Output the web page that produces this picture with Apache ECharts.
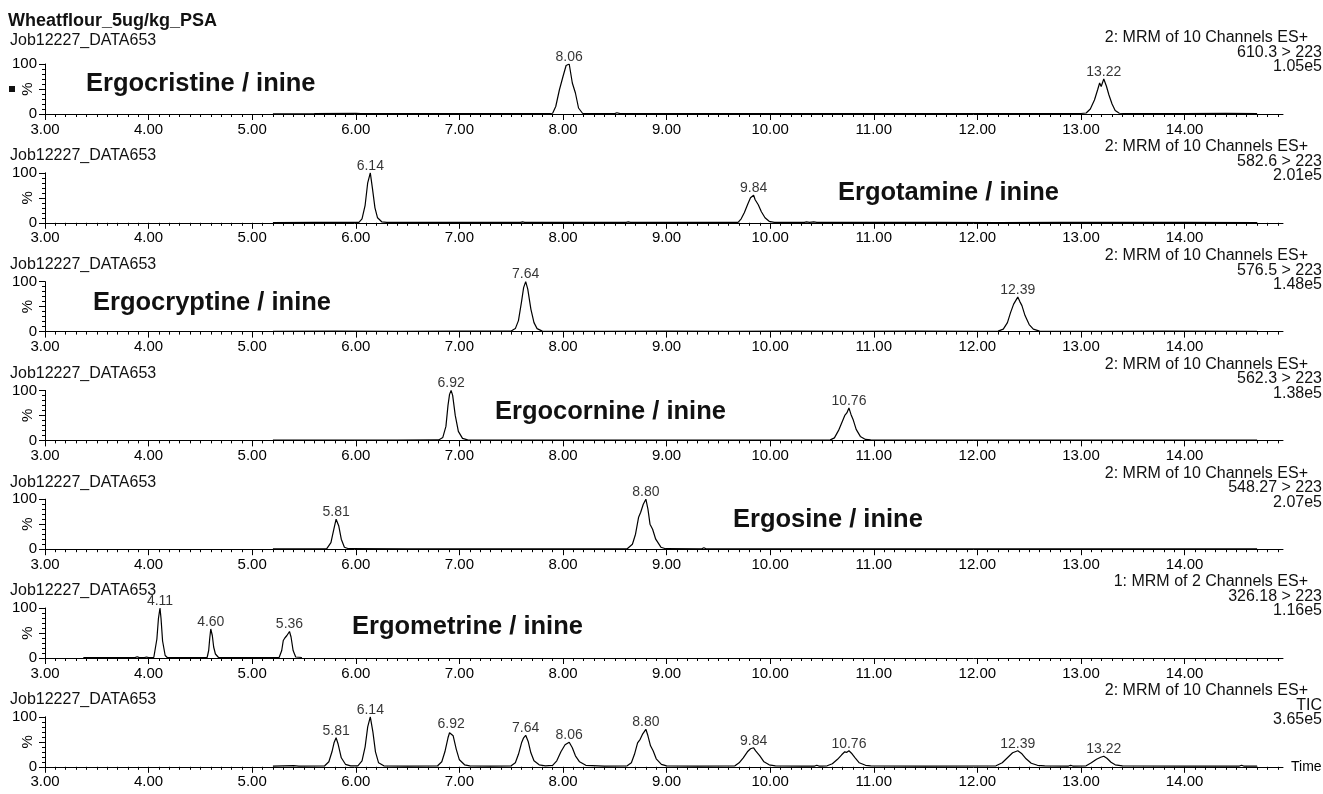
<!DOCTYPE html>
<html>
<head>
<meta charset="utf-8">
<title>Wheatflour_5ug/kg_PSA</title>
<script src="https://cdn.jsdelivr.net/npm/echarts@6/dist/echarts.min.js"></script>
<style>
  html, body { margin: 0; padding: 0; background: #fff; }
  #chart { width: 1323px; height: 794px; }
</style>
</head>
<body>
<div id="chart"></div>
<script>
// ---- Data -------------------------------------------------------------
// Retention time axis (minutes)
const majorTicks = [3, 4, 5, 6, 7, 8, 9, 10, 11, 12, 13, 14];

// Chromatogram traces: [retention time (min), relative intensity (%)]
const ergocristine = [
  [5.20, 0.5], [5.60, 0.8], [6.00, 1.5], [6.05, 0.8], [6.50, 0.6], [7.00, 0.9], [7.40, 0.6], [7.85, 0.8],
  [7.90, 1.5], [7.93, 15], [7.965, 48], [8.00, 75], [8.03, 97], [8.06, 100], [8.09, 62], [8.12, 42],
  [8.15, 12], [8.19, 1], [8.50, 0.8], [8.52, 2.5], [8.55, 0.8], [9.00, 0.6], [9.50, 0.9], [10.00, 0.7],
  [10.50, 0.8], [11.00, 0.6], [11.50, 0.9], [12.00, 0.7], [12.50, 0.8], [13.00, 1.0], [13.05, 2],
  [13.09, 10], [13.13, 28], [13.16, 48], [13.18, 62], [13.195, 55], [13.22, 70], [13.245, 56],
  [13.27, 38], [13.30, 20], [13.33, 7], [13.37, 1.5], [13.45, 0.8], [14.00, 0.8], [14.40, 1.2], [14.70, 0.6]
];
const ergotamine = [
  [5.20, 0.5], [5.60, 0.8], [6.00, 0.7], [6.03, 1], [6.06, 8], [6.09, 35], [6.115, 80], [6.14, 100],
  [6.16, 70], [6.185, 30], [6.21, 10], [6.25, 2], [6.30, 0.8], [6.90, 0.7], [7.59, 0.8], [7.61, 2],
  [7.63, 0.8], [8.20, 0.7], [8.61, 0.8], [8.63, 2], [8.65, 0.8], [9.20, 0.7], [9.69, 1], [9.72, 8],
  [9.75, 20], [9.785, 38], [9.81, 50], [9.84, 55], [9.855, 46], [9.87, 50], [9.885, 36], [9.915, 22],
  [9.95, 10], [9.99, 3], [10.04, 1], [10.33, 0.8], [10.35, 2], [10.38, 0.8], [10.42, 2], [10.45, 0.8],
  [11.00, 0.7], [11.60, 0.8], [12.20, 0.6], [12.80, 0.8], [13.40, 0.7], [14.00, 0.8], [14.70, 0.6]
];
const ergocryptine = [
  [5.20, 0.5], [5.80, 0.8], [6.40, 0.6], [7.00, 0.8], [7.50, 1], [7.54, 6], [7.57, 22], [7.60, 60],
  [7.62, 88], [7.64, 100], [7.66, 85], [7.69, 45], [7.72, 18], [7.75, 6], [7.80, 1], [8.40, 0.7],
  [9.00, 0.8], [9.60, 0.6], [10.20, 0.8], [10.80, 0.7], [11.40, 0.8], [12.00, 0.7], [12.20, 1],
  [12.25, 5], [12.29, 18], [12.32, 38], [12.35, 55], [12.37, 62], [12.39, 69], [12.41, 60], [12.43, 52],
  [12.46, 32], [12.50, 14], [12.54, 5], [12.60, 1], [13.20, 0.7], [13.80, 0.8], [14.70, 0.6]
];
const ergocornine = [
  [5.20, 0.5], [5.80, 0.8], [6.40, 0.6], [6.80, 1], [6.84, 6], [6.87, 28], [6.89, 70], [6.905, 92],
  [6.92, 100], [6.935, 90], [6.96, 50], [6.99, 18], [7.03, 4], [7.08, 1], [7.60, 0.7], [8.20, 0.8],
  [8.80, 0.6], [9.40, 0.8], [10.00, 0.7], [10.58, 1], [10.62, 5], [10.66, 20], [10.69, 35], [10.72, 50],
  [10.74, 55], [10.76, 65], [10.78, 52], [10.80, 42], [10.83, 22], [10.87, 8], [10.92, 2], [10.97, 1],
  [11.60, 0.7], [12.20, 0.8], [12.80, 0.6], [13.40, 0.8], [14.00, 0.7], [14.70, 0.6]
];
const ergosine = [
  [5.20, 0.5], [5.50, 0.8], [5.72, 1], [5.76, 13], [5.785, 37], [5.81, 60], [5.835, 47], [5.86, 20],
  [5.89, 4], [5.93, 1], [6.50, 0.7], [7.10, 0.8], [7.70, 0.6], [8.20, 0.8], [8.62, 1], [8.67, 10],
  [8.70, 30], [8.73, 64], [8.75, 74], [8.775, 90], [8.80, 100], [8.82, 80], [8.84, 50], [8.865, 40],
  [8.895, 20], [8.945, 4], [8.99, 1], [9.34, 0.8], [9.36, 3], [9.38, 0.8], [10.00, 0.7], [10.60, 0.8],
  [11.20, 0.6], [11.80, 0.8], [12.40, 0.7], [13.00, 0.8], [13.60, 0.6], [14.20, 0.8], [14.70, 0.6]
];
const ergometrine = [
  [3.37, 0.8], [3.60, 0.6], [3.87, 0.8], [3.89, 2.5], [3.91, 0.8], [3.96, 0.8], [3.98, 2], [4.00, 0.8],
  [4.05, 1], [4.08, 38], [4.095, 79], [4.11, 100], [4.12, 79], [4.135, 34], [4.16, 5], [4.18, 1],
  [4.40, 0.7], [4.565, 1], [4.58, 15], [4.59, 39], [4.60, 58], [4.615, 45], [4.628, 22], [4.645, 8],
  [4.675, 1], [5.00, 0.7], [5.26, 1], [5.285, 15], [5.30, 35], [5.315, 40], [5.335, 45], [5.36, 53],
  [5.375, 42], [5.395, 15], [5.42, 2], [5.48, 1]
];
const tic = [
  [5.20, 1.5], [5.40, 2.5], [5.45, 1.5], [5.70, 2], [5.74, 10], [5.77, 30], [5.79, 48], [5.81, 58],
  [5.83, 45], [5.86, 18], [5.90, 5], [5.95, 2], [6.02, 2], [6.06, 12], [6.09, 40], [6.115, 80],
  [6.14, 100], [6.165, 70], [6.19, 30], [6.22, 8], [6.27, 2], [6.50, 1.5], [6.79, 2], [6.83, 10],
  [6.86, 30], [6.89, 58], [6.905, 68], [6.92, 72], [6.94, 62], [6.97, 35], [7.00, 14], [7.05, 4],
  [7.10, 2], [7.30, 1.5], [7.50, 2], [7.54, 8], [7.57, 25], [7.60, 48], [7.62, 58], [7.64, 63],
  [7.665, 50], [7.69, 28], [7.72, 12], [7.77, 4], [7.83, 2], [7.90, 3], [7.94, 12], [7.98, 30],
  [8.02, 44], [8.06, 49], [8.09, 38], [8.12, 22], [8.16, 10], [8.22, 3], [8.40, 1.5], [8.62, 2],
  [8.66, 8], [8.69, 25], [8.72, 48], [8.745, 55], [8.77, 66], [8.80, 75], [8.82, 62], [8.845, 42],
  [8.87, 32], [8.90, 16], [8.95, 5], [9.00, 2], [9.30, 1.5], [9.66, 2], [9.70, 8], [9.74, 18],
  [9.78, 30], [9.81, 36], [9.84, 38], [9.86, 32], [9.875, 34], [9.90, 22], [9.94, 10], [9.99, 4],
  [10.05, 2], [10.30, 1.5], [10.43, 1.5], [10.45, 3], [10.47, 1.5], [10.55, 2], [10.60, 6], [10.65, 15],
  [10.69, 24], [10.72, 30], [10.74, 29], [10.76, 32], [10.79, 26], [10.82, 18], [10.86, 8], [10.92, 3],
  [10.97, 2], [11.50, 1.5], [12.18, 2], [12.24, 8], [12.29, 18], [12.34, 28], [12.39, 32], [12.43, 26],
  [12.47, 16], [12.52, 7], [12.58, 3], [12.65, 2], [12.88, 1.5], [12.90, 3], [12.92, 1.5], [13.05, 2],
  [13.10, 8], [13.15, 15], [13.19, 19], [13.22, 21], [13.25, 17], [13.29, 9], [13.33, 4], [13.40, 2],
  [14.00, 1.5], [14.53, 1.5], [14.55, 3], [14.57, 1.5], [14.70, 1.5]
];

// Labelled peak apexes (retention times) per trace
const peaksErgocristine = [8.06, 13.22];
const peaksErgotamine = [6.14, 9.84];
const peaksErgocryptine = [7.64, 12.39];
const peaksErgocornine = [6.92, 10.76];
const peaksErgosine = [5.81, 8.80];
const peaksErgometrine = [4.11, 4.60, 5.36];
const peaksTic = [5.81, 6.14, 6.92, 7.64, 8.06, 8.80, 9.84, 10.76, 12.39, 13.22];

// Panel captions and channel descriptions
const compoundNames = [
  'Ergocristine / inine', 'Ergotamine / inine', 'Ergocryptine / inine',
  'Ergocornine / inine', 'Ergosine / inine', 'Ergometrine / inine', ''
];
const functionLines = [
  '2: MRM of 10 Channels ES+', '2: MRM of 10 Channels ES+', '2: MRM of 10 Channels ES+',
  '2: MRM of 10 Channels ES+', '2: MRM of 10 Channels ES+', '1: MRM of 2 Channels ES+',
  '2: MRM of 10 Channels ES+'
];
const transitions = ['610.3 > 223', '582.6 > 223', '576.5 > 223', '562.3 > 223', '548.27 > 223', '326.18 > 223', 'TIC'];
const maxIntensities = ['1.05e5', '2.01e5', '1.48e5', '1.38e5', '2.07e5', '1.16e5', '3.65e5'];
const sampleTitle = 'Wheatflour_5ug/kg_PSA';
const runName = 'Job12227_DATA653';

// ---- Layout -----------------------------------------------------------
const traces = [ergocristine, ergotamine, ergocryptine, ergocornine, ergosine, ergometrine, tic];
const peakSets = [peaksErgocristine, peaksErgotamine, peaksErgocryptine, peaksErgocornine, peaksErgosine, peaksErgometrine, peaksTic];
const FONT = '"Liberation Sans", Arial, Helvetica, sans-serif';
const X_MIN = 3, X_MAX = 14.95;
const LEFT = 45, RIGHT = 40;
const TOP0 = 64, STEP = 108.8, PLOT_H = 50;
const namePos = [[86, 20], [838, 20], [93, 21], [495, 22], [733, 21], [352, 19]];

function apexOf(trace, t) {
  const p = trace.find(d => Math.abs(d[0] - t) < 1e-9);
  return p ? p[1] : 0;
}

const grids = [], xAxes = [], yAxes = [], series = [], graphics = [];

traces.forEach((trace, i) => {
  const top = TOP0 + STEP * i;
  grids.push({
    left: LEFT, right: RIGHT, top: top, height: PLOT_H,
    containLabel: false, outerBoundsMode: 'none'
  });

  xAxes.push({
    type: 'value', gridIndex: i, min: X_MIN, max: X_MAX, interval: 1,
    axisLine: { show: true, onZero: false, lineStyle: { color: '#000', width: 1 } },
    axisTick: { show: true, length: 6, customValues: majorTicks, lineStyle: { color: '#000', width: 1 } },
    minorTick: { show: true, splitNumber: 10, length: 3, lineStyle: { color: '#000', width: 1 } },
    axisLabel: {
      customValues: majorTicks, margin: 8, fontSize: 15, color: '#000', fontFamily: FONT,
      formatter: v => v.toFixed(2)
    },
    splitLine: { show: false }, minorSplitLine: { show: false },
    name: i === traces.length - 1 ? 'Time' : '',
    nameLocation: 'end', nameGap: 8, nameMoveOverlap: false,
    nameTextStyle: { fontSize: 14, color: '#000', fontFamily: FONT, verticalAlign: 'middle' }
  });

  yAxes.push({
    type: 'value', gridIndex: i, min: 0, max: 100, interval: 50,
    axisLine: { show: true, lineStyle: { color: '#000', width: 1 } },
    axisTick: { show: true, length: 6, lineStyle: { color: '#000', width: 1 } },
    minorTick: { show: true, splitNumber: 5, length: 3, lineStyle: { color: '#000', width: 1 } },
    axisLabel: {
      margin: 8, fontSize: 15, color: '#000', fontFamily: FONT,
      formatter: v => (v === 50 ? '' : String(v))
    },
    splitLine: { show: false }, minorSplitLine: { show: false },
    name: '%', nameLocation: 'middle', nameRotate: 90, nameGap: 10, nameMoveOverlap: false,
    nameTextStyle: { fontSize: 15, color: '#000', fontFamily: FONT }
  });

  series.push({
    type: 'line', xAxisIndex: i, yAxisIndex: i, data: trace,
    showSymbol: false, symbol: 'none', silent: true, animation: false,
    lineStyle: { color: '#000', width: 1.2 }
  });

  series.push({
    type: 'scatter', xAxisIndex: i, yAxisIndex: i, silent: true, animation: false,
    symbolSize: 0,
    data: peakSets[i].map(t => [t, apexOf(trace, t)]),
    label: {
      show: true, position: 'top', distance: 0, fontSize: 14, color: '#000', fontFamily: FONT,
      formatter: p => p.value[0].toFixed(2)
    }
  });

  // run name above each panel
  graphics.push({
    type: 'text', x: 10, y: i === 0 ? 41 : top - 17,
    style: { text: runName, font: '16px ' + FONT, fill: '#111', verticalAlign: 'middle' }
  });

  // channel description block at the right
  const blockLines = [functionLines[i], transitions[i], maxIntensities[i]];
  blockLines.forEach((txt, k) => {
    graphics.push({
      type: 'text', x: k === 0 ? 1308 : 1322, y: top - 26 + 14.5 * k,
      style: { text: txt, font: '16px ' + FONT, fill: '#111', align: 'right', verticalAlign: 'middle' }
    });
  });

  // compound caption inside the panel
  if (compoundNames[i]) {
    graphics.push({
      type: 'text', x: namePos[i][0], y: top + namePos[i][1],
      style: { text: compoundNames[i], font: 'bold 25.5px ' + FONT, fill: '#111', verticalAlign: 'middle' }
    });
  }
});

// sample title and the small selection marker of the first trace
graphics.push({
  type: 'text', x: 8, y: 21,
  style: { text: sampleTitle, font: 'bold 18px ' + FONT, fill: '#111', verticalAlign: 'middle' }
});
graphics.push({
  type: 'rect', shape: { x: 9, y: 86, width: 6, height: 6 }, style: { fill: '#111' }
});

const chart = echarts.init(document.getElementById('chart'), null, { renderer: 'canvas' });
chart.setOption({
  animation: false,
  backgroundColor: '#fff',
  grid: grids,
  xAxis: xAxes,
  yAxis: yAxes,
  series: series,
  graphic: graphics
});
</script>
</body>
</html>
